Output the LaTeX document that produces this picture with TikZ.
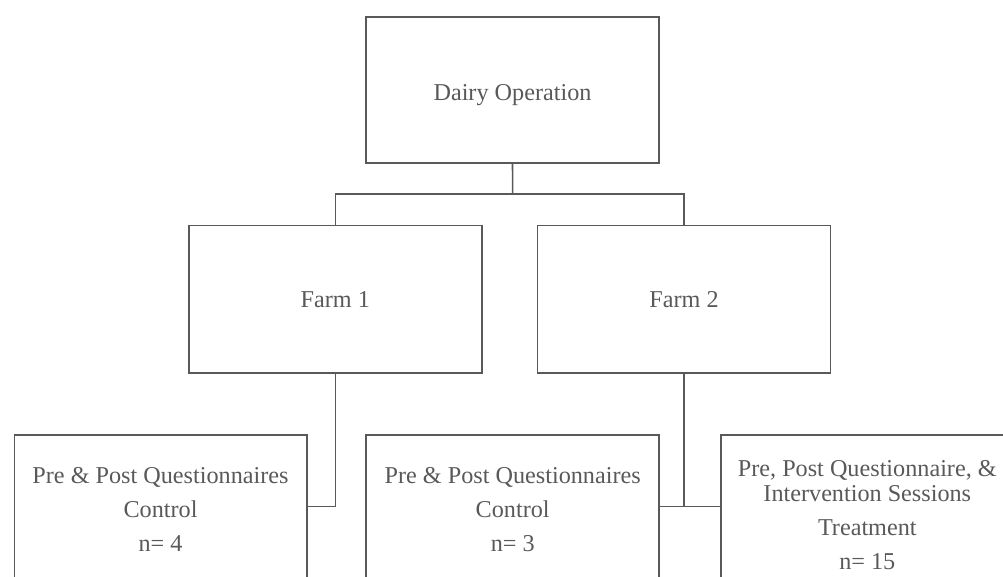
\documentclass[tikz,border=0pt]{standalone}
\usepackage{fontspec}
\setmainfont{Liberation Serif}
\usetikzlibrary{positioning}
\definecolor{boxgray}{HTML}{595959}

\begin{document}
\begin{tikzpicture}[
    x=1pt, y=-1pt,
    box/.style={rectangle, draw=boxgray, line width=1.6pt, minimum width=293pt, align=center, inner sep=0pt, text depth=0pt, text=boxgray, font=\fontsize{24.2}{34}\selectfont},
    line/.style={draw=boxgray, line width=1.6pt}
]
\useasboundingbox (0,0) rectangle (1003,577);
\clip (0,0) rectangle (1003,577);
\node[box, minimum height=146pt, text height=20pt] (dairy) at (512.5,90.3) {Dairy Operation};
\node[box, minimum height=147pt] (farma) at (335.3,299.2) {Farm 1};
\node[box, minimum height=147pt] (farmb) at (684,299.2) {Farm 2};
\node[box, minimum width=292.4pt, minimum height=143pt, text height=90pt] (ctla) at (160.5,506.5) {Pre \& Post Questionnaires\\Control\\n= 4};
\node[box, minimum height=143pt, text height=90pt] (ctlb) at (512.7,506.5) {Pre \& Post Questionnaires\\Control\\n= 3};
\node[box, minimum height=143pt, text height=125.6pt] (trt) at (867.3,506.5) {Pre, Post Questionnaire, \&\\[-9pt]Intervention Sessions\\Treatment\\n= 15};
\coordinate (split) at (512.7,194.3);
\draw[line] (dairy.south) -- (split);
\draw[line] (farma.north) |- (split) -| (farmb.north);
\draw[line] (farma.south) |- (ctla.east);
\draw[line] (ctlb.east) -- (trt.west);
\draw[line] (farmb.south) -- (farmb.south |- trt.west);
\end{tikzpicture}
\end{document}
